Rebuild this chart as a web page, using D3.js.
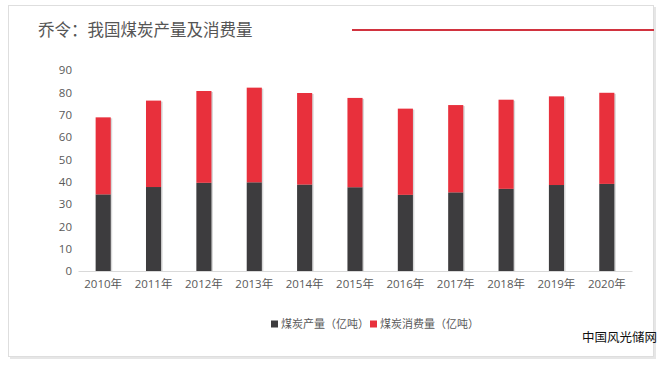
<!doctype html>
<html lang="zh">
<head>
<meta charset="utf-8">
<style>
html, body {
    margin: 0;
    padding: 0;
    background: #fff;
    width: 667px;
    height: 368px;
    overflow: hidden;
}
svg {
    position: absolute;
    top: 0;
    left: 0;
    font-family: "Noto Sans CJK SC", "Microsoft YaHei", sans-serif;
}
</style>
</head>
<body>
<svg id="chart" width="667" height="368"></svg>
<script src="https://cdn.jsdelivr.net/npm/d3@7/dist/d3.min.js"></script>
<script>
const years = ['2010年', '2011年', '2012年', '2013年', '2014年', '2015年', '2016年', '2017年', '2018年', '2019年', '2020年'];
const production = [34.3, 37.6, 39.5, 39.7, 38.7, 37.5, 34.1, 35.2, 36.8, 38.5, 39.0];
const consumption = [34.5, 38.7, 41.1, 42.4, 41.0, 40.0, 38.6, 39.1, 39.9, 39.7, 40.8];
const yTicks = [0, 10, 20, 30, 40, 50, 60, 70, 80, 90];
const seriesNames = ['煤炭产量（亿吨）', '煤炭消费量（亿吨）'];
const colors = ['#3d3c3e', '#e8303c'];

const svg = d3.select('#chart');

// card frame with a soft shadow
svg.append('rect')
    .attr('x', 10).attr('y', 7).attr('width', 646).attr('height', 352)
    .attr('fill', '#e6e6e6');
svg.append('rect')
    .attr('x', 8.5).attr('y', 5.5).attr('width', 645).attr('height', 351)
    .attr('fill', '#fff').attr('stroke', '#dedede');

// title + red rule
svg.append('text')
    .attr('x', 38).attr('y', 36)
    .attr('font-size', 16.5).attr('fill', '#555')
    .text('乔令：我国煤炭产量及消费量');
svg.append('line')
    .attr('x1', 352).attr('x2', 654).attr('y1', 30).attr('y2', 30)
    .attr('stroke', '#d1333f').attr('stroke-width', 2);

const x = d3.scaleBand().domain(years).range([78, 632]).paddingInner(0.7).paddingOuter(0.35);
const y = d3.scaleLinear().domain([0, 90]).range([271, 70]);

const rows = years.map((yr, i) => ({year: yr, production: production[i], consumption: consumption[i]}));
const stacked = d3.stack().keys(['production', 'consumption'])(rows);

// y axis (labels only)
const gy = svg.append('g')
    .attr('transform', 'translate(78,0)')
    .call(d3.axisLeft(y).tickValues(yTicks).tickSize(0).tickPadding(6));
gy.select('.domain').remove();
gy.selectAll('text')
    .attr('font-size', 11.5).attr('fill', '#595959')
    .attr('font-family', '"Open Sans", "Noto Sans", sans-serif');

// x axis
const gx = svg.append('g')
    .attr('transform', 'translate(0,271)')
    .call(d3.axisBottom(x).tickSize(0).tickPadding(9));
gx.select('.domain').attr('stroke', '#d9d9d9');
gx.selectAll('text')
    .attr('font-size', 11.5).attr('fill', '#595959')
    .attr('font-family', '"Open Sans", "Noto Sans CJK SC", sans-serif');

// bar shadows
svg.append('g').selectAll('rect')
    .data(rows)
    .join('rect')
    .attr('x', d => x(d.year) + 1.5)
    .attr('y', d => y(d.production + d.consumption) + 1)
    .attr('width', x.bandwidth())
    .attr('height', d => y(0) - y(d.production + d.consumption) - 1)
    .attr('fill', '#d8d8d8');

// stacked bars
svg.append('g').selectAll('g')
    .data(stacked)
    .join('g')
    .attr('fill', (d, i) => colors[i])
    .selectAll('rect')
    .data(d => d)
    .join('rect')
    .attr('x', d => x(d.data.year))
    .attr('y', d => y(d[1]))
    .attr('width', x.bandwidth())
    .attr('height', d => y(d[0]) - y(d[1]));

// legend
const legendX = [271, 370];
const legend = svg.append('g').selectAll('g')
    .data(seriesNames)
    .join('g')
    .attr('transform', (d, i) => `translate(${legendX[i]},324)`);
legend.append('rect')
    .attr('x', 0).attr('y', -3.5).attr('width', 7).attr('height', 7)
    .attr('fill', (d, i) => colors[i]);
legend.append('text')
    .attr('x', 10).attr('y', 4)
    .attr('font-size', 11).attr('fill', '#595959')
    .text(d => d);

// watermark
svg.append('text')
    .attr('x', 582).attr('y', 342)
    .attr('font-size', 12.5).attr('fill', '#111')
    .text('中国风光储网');
</script>
</body>
</html>
